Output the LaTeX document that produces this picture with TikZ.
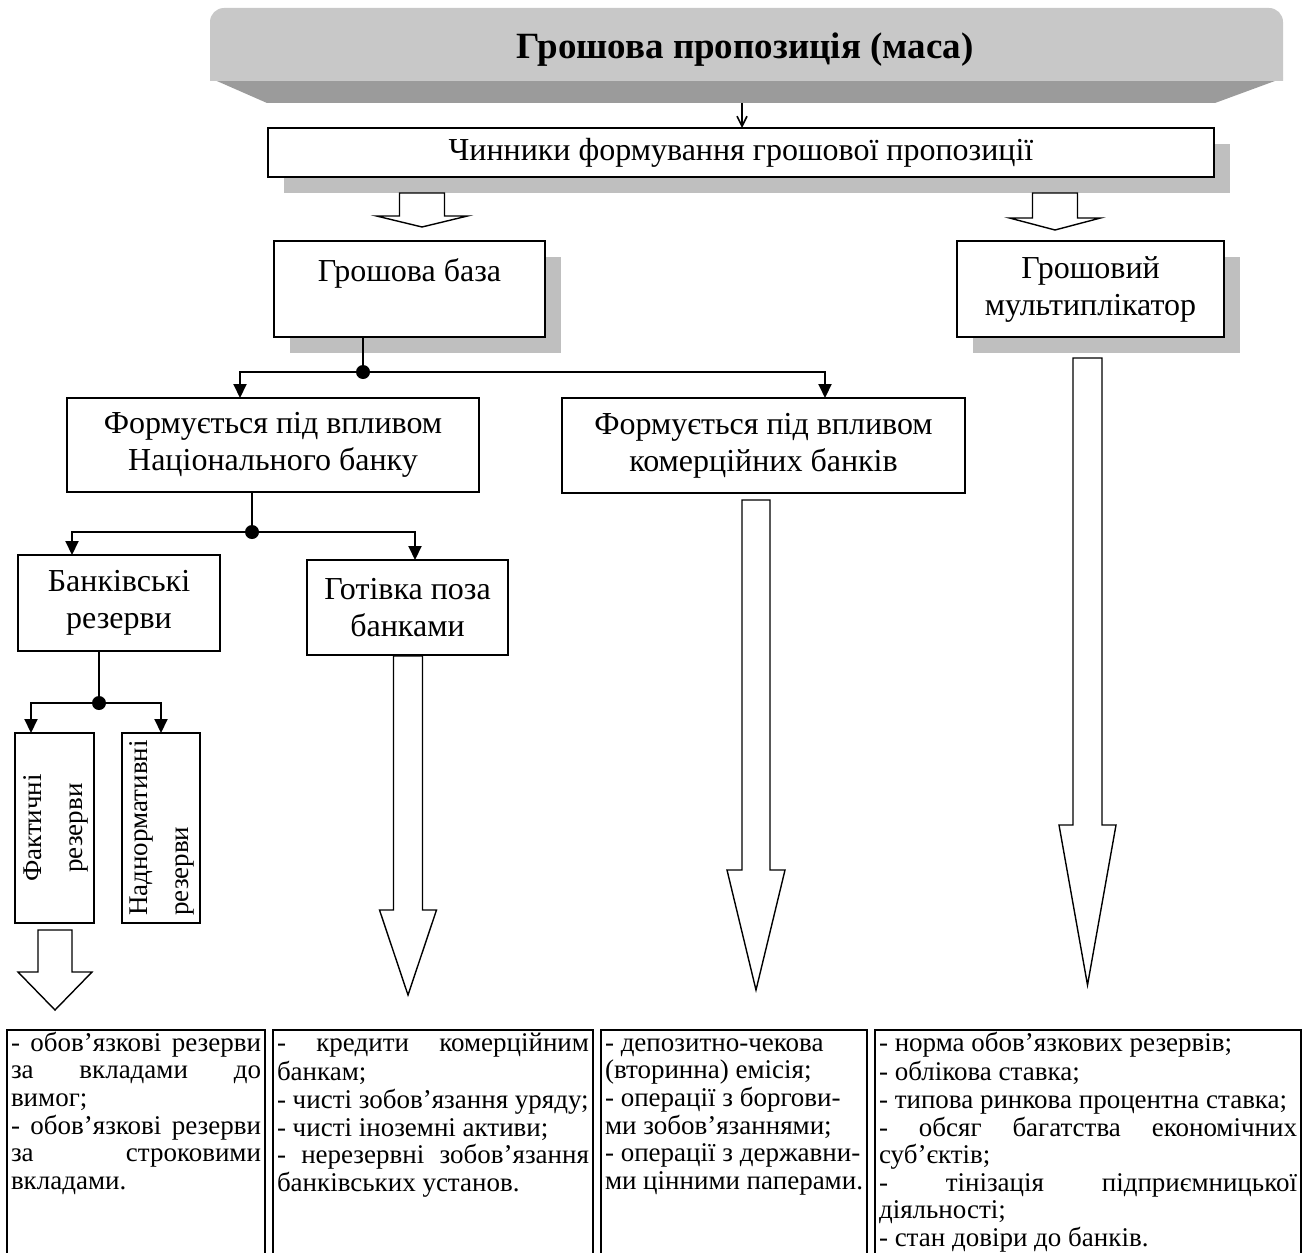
\documentclass[tikz,border=0pt]{standalone}
\usepackage{fontspec}
\setmainfont{Liberation Serif}
\usepackage{graphicx}
\usepackage{tikz}
\usetikzlibrary{calc,arrows.meta,shadows}
\definecolor{MSFace}{RGB}{200, 200, 200}
\definecolor{MSBand}{RGB}{155, 155, 155}
\definecolor{MSShadow}{RGB}{191, 191, 191}
\hyphenpenalty=10000
\exhyphenpenalty=10000
% hollow block arrow pointing down: start, half shaft, half head, shaft length, head length
\newcommand\hollowdown[5]{%
  \draw[hollow] (#1) ++(-#2,0) -- ++(0,#4) -- ++(#2-#3,0) -- ++(#3,#5)
    -- ++(#3,-#5) -- ++(#2-#3,0) -- ++(0,-#4) -- cycle;}
\newcommand\cellbox[2]{\begin{minipage}[t][112pt][t]{#1}%
  \fontsize{13.5}{13.8}\selectfont\strut #2\end{minipage}}

\begin{document}
\begin{tikzpicture}[x=0.5pt, y=-0.5pt,
    box/.style={draw, line width=1.3pt, fill=white, outer sep=0pt, align=center,
      anchor=north west, font=\fontsize{16}{18.5}\selectfont},
    shadowed/.style={drop shadow={fill=MSShadow, opacity=1, shadow xshift=8pt, shadow yshift=-8pt}},
    hub/.style={circle, fill, inner sep=0pt, minimum size=7pt},
    link/.style={line width=1pt},
    conn/.style={line width=1pt, -{Triangle[length=7pt, width=6.5pt]}},
    vee/.style={line width=0.8pt, -{Straight Barb[length=5pt, width=5pt]}},
    hollow/.style={line width=0.7pt, fill=white},
    vbox/.style={box, inner sep=0pt, line width=1.2pt, font=\fontsize{13.5}{17.5}\selectfont},
    cell/.style={draw, line width=0.8pt, anchor=north west, inner xsep=2pt, inner ysep=1pt, outer sep=0pt},
  ]
    \useasboundingbox (0,0) rectangle (1304,1252);

    % Title banner
    \fill[MSBand] (210,78) -- (1283,78) -- (1215,103) -- (267,103) -- cycle;
    \fill[MSFace] (210,81) [rounded corners=7pt] -- (210,8) -- (1283,8) [sharp corners] -- (1283,81) -- cycle;
    \node[font=\bfseries\fontsize{18.5}{21}\selectfont] (title) at (745,50) {Грошова пропозиція (маса)};
    \coordinate (bandbot) at (742,103);

    % Factors
    \node[box, shadowed, minimum width=473pt, minimum height=24.5pt] (factors) at (268,128) {Чинники формування грошової пропозиції};
    \draw[vee] (bandbot) -- (bandbot |- factors.north);

    \node[box, shadowed, minimum width=135.5pt, minimum height=48pt] (base) at (274,241) {Грошова база\\\mbox{}};
    \node[box, shadowed, minimum width=133.5pt, minimum height=48pt] (mult) at (957,241) {Грошовий\\мультиплікатор};
    \coordinate (toBase) at ($(factors.south)+(-319,16)$);
    \coordinate (toMult) at ($(factors.south)+(314,16)$);
    \hollowdown{toBase}{22.5}{45.5}{23}{11}
    \hollowdown{toMult}{22.5}{45.5}{25}{12}

    % Money base split
    \node[box, minimum width=206pt, minimum height=47pt] (nbu) at (67,398) {Формується під впливом\\Національного банку};
    \node[box, minimum width=201.5pt, minimum height=47.5pt] (commerce) at (562,398) {Формується під впливом\\комерційних банків};
    \node[hub] (hubBase) at (363,372) {};
    \draw[link] (hubBase |- base.south) -- (hubBase);
    \draw[conn] (hubBase) -| ($(nbu.north)+(-33,0)$);
    \draw[conn] (hubBase) -| ($(commerce.north)+(61.5,0)$);

    % National bank split
    \node[box, minimum width=101pt, minimum height=48pt] (reserves) at (18,555) {Банківські\\резерви};
    \node[box, minimum width=100.5pt, minimum height=47.5pt] (cash) at (307,560) {Готівка поза\\банками};
    \node[hub] (hubNbu) at (252,532) {};
    \draw[link] (hubNbu |- nbu.south) -- (hubNbu);
    \draw[conn] (hubNbu) -| ($(reserves.north)+(-47,0)$);
    \draw[conn] (hubNbu) -| ($(cash.north)+(7.5,0)$);

    % Reserves split
    \node[vbox, minimum width=39.5pt, minimum height=95pt] (actual) at (15,733)
      {\rotatebox{90}{\begin{tabular}{@{}c@{}}Фактичні\\[3pt]резерви\end{tabular}}};
    \node[vbox, minimum width=39pt, minimum height=95pt] (excess) at (122,733)
      {\rotatebox{90}{\begin{tabular}{@{}l@{}}Наднормативні\\[3pt]резерви\end{tabular}}};
    \node[hub] (hubRes) at (99,703) {};
    \draw[link] (hubRes |- reserves.south) -- (hubRes);
    \draw[conn] (hubRes) -| ($(actual.north)+(-23.5,0)$);
    \draw[conn] (hubRes) -| (excess.north);

    % Block arrows
    \coordinate (fromActual) at ($(actual.south)+(0.5,7)$);
    \coordinate (fromCash) at ($(cash.south)+(0.5,1)$);
    \coordinate (fromComm) at ($(commerce.south)+(-7.5,7)$);
    \coordinate (fromMult) at ($(mult.south)+(-3,21)$);
    \hollowdown{fromActual}{17}{37}{42}{38}
    \hollowdown{fromCash}{14.5}{28.5}{254}{85}
    \hollowdown{fromComm}{14}{29}{370}{120}
    \hollowdown{fromMult}{14.5}{28.5}{467}{160}

    % Lists
    \node[cell] (listRes) at (7,1030) {\cellbox{125pt}{- обов’язкові резерви\linebreak за вкладами до\linebreak вимог;\\- обов’язкові резерви\linebreak за строковими\linebreak вкладами.}};
    \node[cell] (listCash) at (273,1030) {\cellbox{156pt}{- кредити комерційним\linebreak банкам;\\- чисті зобов’язання уряду;\\- чисті іноземні активи;\\- нерезервні зобов’язання\linebreak банківських установ.}};
    \node[cell] (listComm) at (601,1030) {\cellbox{129pt}{\raggedright - депозитно-чекова\\(вторинна) емісія;\\- операції з боргови-\\ми зобов’язаннями;\\- операції з державни-\\ми цінними паперами.}};
    \node[cell] (listMult) at (875,1030) {\cellbox{209pt}{- норма обов’язкових резервів;\\- облікова ставка;\\- типова ринкова процентна ставка;\\- обсяг багатства економічних\linebreak суб’єктів;\\- тінізація підприємницької\linebreak діяльності;\\- стан довіри до банків.}};
\end{tikzpicture}
\end{document}
